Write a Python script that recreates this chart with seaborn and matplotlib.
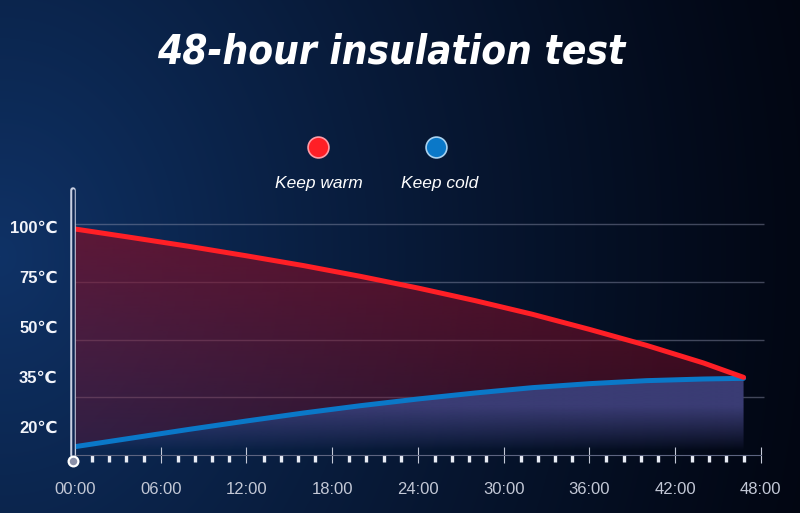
import numpy as np
import matplotlib
matplotlib.use("Agg")
import matplotlib.pyplot as plt
import seaborn as sns
from matplotlib.lines import Line2D
from matplotlib.ticker import MultipleLocator

# data
hours = [0, 4, 8, 12, 16, 20, 24, 28, 32, 36, 40, 44, 46.8]
keep_warm = [99.0, 94.7, 90.3, 85.6, 80.7, 75.3, 69.5, 63.2, 56.4, 49.3, 44.5, 39.2, 34.9]
keep_cold = [14.1, 16.7, 19.3, 21.8, 24.2, 26.4, 28.4, 30.2, 31.8, 33.0, 33.9, 34.4, 34.6]
series_names = ["Keep warm", "Keep cold"]
series_colors = ["#ff1f26", "#0a78c8"]
marker_edges = ["#ff9ca6", "#a9d2f0"]

temp_ticks = [20, 35, 50, 75, 100]
temp_labels = ["20℃", "35℃", "50℃", "75℃", "100℃"]
time_ticks = [0, 6, 12, 18, 24, 30, 36, 42, 48]
time_labels = ["00:00", "06:00", "12:00", "18:00", "24:00", "30:00", "36:00", "42:00", "48:00"]
grid_temps = [101.4, 72.7, 46.2, 29.1]

title = "48-hour insulation test"

# temperature labels sit at even spacing -> piecewise scale
slots = np.arange(len(temp_ticks), dtype=float)


def to_slot(t):
    t = np.asarray(t, dtype=float)
    lo = (t - temp_ticks[0]) / (temp_ticks[1] - temp_ticks[0])
    hi = slots[-1] + (t - temp_ticks[-1]) / (temp_ticks[-1] - temp_ticks[-2])
    return np.where(t < temp_ticks[0], lo,
                    np.where(t > temp_ticks[-1], hi, np.interp(t, temp_ticks, slots)))


def from_slot(s):
    s = np.asarray(s, dtype=float)
    lo = temp_ticks[0] + s * (temp_ticks[1] - temp_ticks[0])
    hi = temp_ticks[-1] + (s - slots[-1]) * (temp_ticks[-1] - temp_ticks[-2])
    return np.where(s < 0, lo, np.where(s > slots[-1], hi, np.interp(s, slots, temp_ticks)))


sns.set_style("dark")
plt.rcParams["font.family"] = ["Liberation Sans", "DejaVu Sans"]

W, H = 800, 513
fig = plt.figure(figsize=(W / 100, H / 100), dpi=100)

# background gradient
bg = fig.add_axes([0, 0, 1, 1], zorder=-10)
yy, xx = np.mgrid[0:1:H * 1j, 0:1:W * 1j]
d = np.clip(np.sqrt((xx / 1.05) ** 2 + ((yy - 0.5) / 2.0) ** 2), 0, 1)
wgt = (1 - d) ** 1.2
bright = np.array([15, 50, 102]) / 255
dark = np.array([2, 6, 18]) / 255
img = dark + (bright - dark) * wgt[..., None]
bg.imshow(img, aspect="auto", extent=[0, 1, 0, 1], origin="upper")
bg.axis("off")

ax = fig.add_axes([75 / W, 1 - 455 / H, (760.7 - 75) / W, 265 / H])
ax.set_facecolor("none")

# lines
sns.lineplot(x=hours, y=keep_warm, ax=ax, color=series_colors[0], lw=3.6,
             estimator=None, sort=False, zorder=6, solid_capstyle="round")
sns.lineplot(x=hours, y=keep_cold, ax=ax, color=series_colors[1], lw=3.6,
             estimator=None, sort=False, zorder=5, solid_capstyle="round")

ax.set_yscale("function", functions=(to_slot, from_slot))
y_lo, y_hi = float(from_slot(-0.56)), float(from_slot(4.74))

ax.hlines(grid_temps, 0, 48.2, colors="#8e93ad", lw=1, alpha=0.45, zorder=1, clip_on=False)


def gradient_fill(poly, rgb, alpha, y0, y1, zorder):
    grad = np.zeros((256, 1, 4))
    grad[..., :3] = rgb
    grad[:, 0, 3] = alpha
    im = ax.imshow(grad, extent=[0, 1, y0, y1], transform=ax.transAxes,
                   origin="lower", aspect="auto", zorder=zorder, interpolation="bilinear")
    im.set_clip_path(poly.get_paths()[0], transform=poly.get_transform())
    poly.remove()


ramp = np.linspace(0, 1, 256)
hrs = np.array(hours)
red_poly = ax.fill_between(hrs, keep_cold, keep_warm, lw=0)
gradient_fill(red_poly, np.array([130, 14, 38]) / 255, 0.3 + 0.42 * ramp, 0.0, 0.92, 2)
blue_poly = ax.fill_between(hrs, from_slot(-0.56), keep_cold, lw=0)
gradient_fill(blue_poly, np.array([58, 60, 116]) / 255,
              np.clip((ramp - 0.06) / 0.55, 0, 1) ** 0.9, 0.0, 0.3, 3)

ax.set_xlim(0, 48)
ax.set_ylim(y_lo, y_hi)

# axes styling
for s in ["top", "right", "left"]:
    ax.spines[s].set_visible(False)
ax.spines["bottom"].set_color("#5d6480")
ax.spines["bottom"].set_linewidth(0.8)

ax.set_yticks(temp_ticks, temp_labels)
ax.set_xticks(time_ticks, time_labels)
ax.xaxis.set_minor_locator(MultipleLocator(1.2))
ax.tick_params(axis="y", left=False, length=0, pad=12.5, labelsize=12, labelcolor="#f2f4fa")
ax.tick_params(axis="x", which="both", bottom=True)
ax.tick_params(axis="x", which="major", direction="inout", length=11, width=0.8,
               color="#c5cad8", pad=14, labelsize=12, labelcolor="#c3c8d6")
ax.tick_params(axis="x", which="minor", direction="out", length=5, width=2.4,
               color="#e8ecf5")
for lbl in ax.get_yticklabels():
    lbl.set_fontweight("bold")
ax.grid(False)

# thermometer-like left bar
ax.axvline(-0.14, 0, 1, color="#c9d0e2", lw=4.0, solid_capstyle="round", zorder=7, clip_on=False)
ax.axvline(-0.14, 0, 1, color="#0d2550", lw=1.8, solid_capstyle="round", zorder=8, clip_on=False)
fig.add_artist(Line2D([73 / W], [1 - 461 / H], marker="o", ms=7, mfc="#8a90a8",
                      mec="white", mew=1.6, transform=fig.transFigure, zorder=20))

# title
fig.text(391 / W, 1 - 63.5 / H, title, ha="center", va="baseline", fontsize=29,
         fontweight="bold", fontstyle="italic", fontstretch="condensed",
         family="DejaVu Sans", color="white")

# legend: markers above italic labels
for name, col, edge, mx, tx in zip(series_names, series_colors, marker_edges, [318.3, 436], [318.8, 440]):
    fig.add_artist(Line2D([mx / W], [1 - 146.7 / H], marker="o", ms=15, mfc=col,
                          mec=edge, mew=1.2, transform=fig.transFigure))
    fig.text(tx / W, 1 - 188 / H, name, ha="center", va="baseline", fontsize=12.5,
             fontstyle="italic", color="white")

fig.savefig("out.png", dpi=100)
